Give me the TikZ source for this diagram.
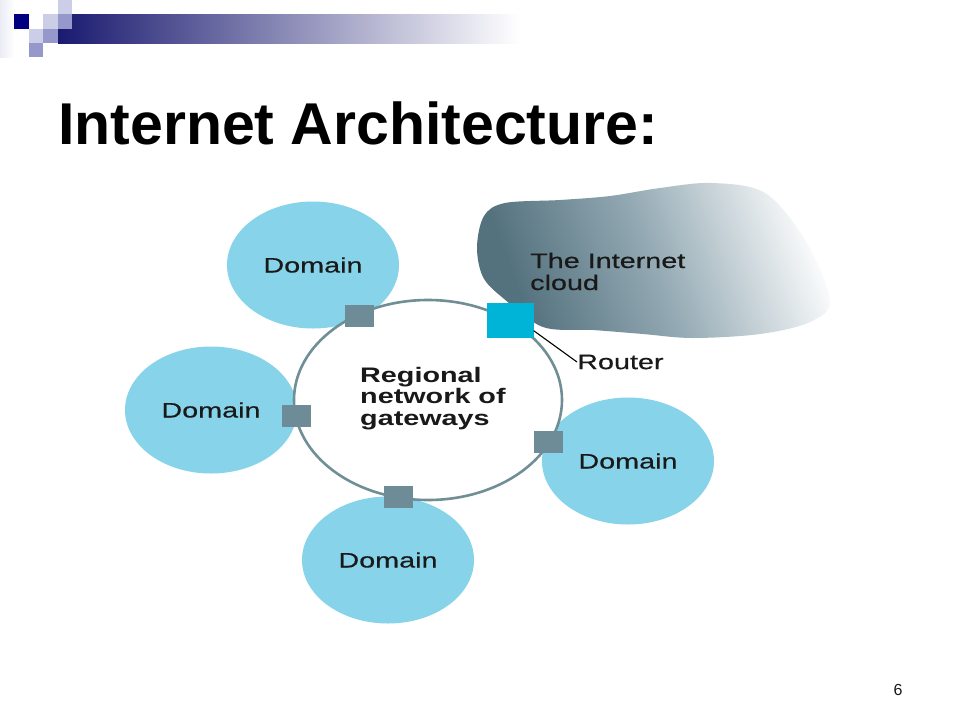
\documentclass[tikz,border=0pt]{standalone}
\usepackage{fontspec}
\setmainfont{Liberation Sans}
\newfontfamily\widesans[FakeStretch=1.37]{Liberation Sans}
\newfontfamily\labelsans[FakeStretch=1.37, FakeBold=0.35]{Liberation Sans}
\usetikzlibrary{shapes.geometric}
\definecolor{domainblue}{RGB}{135,212,234}
\definecolor{gatecol}{RGB}{110,140,152}
\definecolor{routercol}{RGB}{0,180,216}
\definecolor{ringcol}{RGB}{112,142,150}
\definecolor{clouddark}{RGB}{84,114,126}
\definecolor{cloudmid}{RGB}{148,170,180}
\definecolor{decnavy}{RGB}{0,0,128}
\definecolor{barnavy}{RGB}{26,26,112}
\definecolor{declight}{RGB}{204,206,232}
\definecolor{decmid}{RGB}{150,152,204}
\definecolor{textdark}{RGB}{25,25,25}
\pgfdeclarehorizontalshading{cloudshade}{100bp}{color(0bp)=(clouddark); color(27bp)=(clouddark); color(50bp)=(cloudmid); color(77bp)=(white); color(100bp)=(white)}
\begin{document}
\begin{tikzpicture}[x=1pt,y=-1pt,
  domainnode/.style={ellipse, fill=domainblue, minimum width=172pt, minimum height=127pt, inner sep=0pt,
    text=textdark, font=\labelsans\fontsize{21}{24}\selectfont},
  gatenode/.style={rectangle, fill=gatecol, minimum width=29pt, minimum height=22pt, inner sep=0pt},
  routernode/.style={rectangle, fill=routercol, minimum width=47pt, minimum height=35pt, inner sep=0pt},
  ringnode/.style={ellipse, draw=ringcol, line width=2.6pt, fill=white, minimum width=268pt, minimum height=200pt, inner sep=0pt},
  lbl/.style={text=textdark, inner sep=0pt, font=\labelsans\fontsize{21}{22}\selectfont}
]
\useasboundingbox (0,0) rectangle (960,720);
\fill[white] (0,0) rectangle (960,720);

% top decoration
\shade[left color=barnavy, right color=white] (58,14) rectangle (520,43);
\fill[left color=declight!40, right color=white] (0,0) rectangle (14,57);
\fill[declight] (58,0) rectangle (72,14);
\fill[decnavy] (14,14) rectangle (29,29);
\fill[declight] (43,14) rectangle (58,29);
\fill[decmid] (58,14) rectangle (72,29);
\fill[declight] (29,29) rectangle (43,43);
\fill[decmid] (43,29) rectangle (58,43);
\fill[decmid] (29,43) rectangle (43,57);

% title
\node[anchor=base west, inner sep=0pt, font=\bfseries\fontsize{59}{64}\selectfont] (title) at (58,144) {Internet Architecture:};

% cloud
\shade[shading=cloudshade, shading angle=20]
  plot[smooth cycle, tension=0.55] coordinates {
    (477,247) (484,216) (505,203) (560,200) (610,196) (660,188) (712,183)
    (765,193) (805,240) (830,300) (810,322) (760,334) (693,338) (643,334)
    (593,330) (543,327) (503,298) (483,277)};
\node[lbl, anchor=base west, align=left] (cloudlbl) at (530,290) {The Internet\\cloud};

% domains
\node[domainnode] (dom1) at (313,265) {Domain};
\node[domainnode] (dom2) at (211,410) {Domain};
\node[domainnode] (dom3) at (628,461) {Domain};
\node[domainnode] (dom4) at (388,560) {Domain};

% ring
\node[ringnode] (ring) at (428,400) {};
\node[lbl, anchor=base west, align=left, font=\widesans\bfseries\fontsize{21}{21.5}\selectfont] (regional) at (360,425) {Regional\\network of\\gateways};

% gateways
\node[gatenode] (gw1) at (359,316) {};
\node[gatenode] (gw2) at (296,416) {};
\node[gatenode] (gw3) at (548,442) {};
\node[gatenode] (gw4) at (398,497) {};
\node[routernode] (router) at (510,320) {};

% router label
\node[lbl, anchor=west] (routerlbl) at (577,362) {Router};
\draw[black, line width=1.1pt] ([yshift=7pt]router.south east) -- (routerlbl.west);

% page number
\node[inner sep=0pt, text=textdark, font=\fontsize{16}{18}\selectfont] (pagenum) at (898,690) {6};
\end{tikzpicture}
\end{document}
